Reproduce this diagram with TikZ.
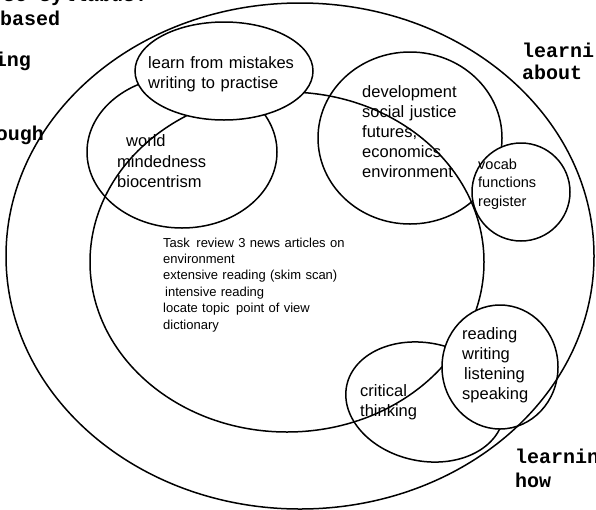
\documentclass[tikz,border=0pt]{standalone}
\usepackage{fontspec}
\setmainfont{Liberation Sans}
\newfontfamily\typefont{Liberation Mono}
\begin{document}
\begin{tikzpicture}[x=1pt,y=-1pt,
  ring/.style={line width=1.5pt},
  cover/.style={line width=1.5pt, fill=white},
  block/.style={inner sep=0pt, anchor=base west, align=left, text width=#1},
  big/.style={font=\fontsize{16.5}{20}\selectfont},
  mid/.style={font=\fontsize{14.5}{18.5}\selectfont},
  small/.style={font=\fontsize{13}{16.4}\selectfont},
  margin/.style={inner sep=0pt, font=\typefont\bfseries\fontsize{20}{24}\selectfont}]
\useasboundingbox (0,0) rectangle (596,509);
\clip (0,0) rectangle (596,509);

% inner loops that other rings lie over
\draw[ring] (182,152) ellipse [x radius=95pt, y radius=76pt];
\draw[ring] (287,262) ellipse [x radius=197pt, y radius=170pt];
\draw[ring] (410,138) ellipse [x radius=92pt, y radius=86pt];
\draw[ring, rotate around={-12:(425,402)}] (425,402) ellipse [x radius=80pt, y radius=59pt];

% rings that hide what passes beneath them
\draw[cover] (224,71) ellipse [x radius=89pt, y radius=49pt];
\draw[cover] (521,192) circle [radius=49pt];
\draw[cover] (500,367) ellipse [x radius=58pt, y radius=62pt];

% outer boundary
\draw[ring] (300,256) ellipse [x radius=294pt, y radius=253pt];

% labels inside the rings
\node[block=200pt, big] (mistakes) at (148,68) {learn from mistakes\\writing to practise};
\node[block=80pt, big] (world) at (126,146) {world};
\node[block=120pt, big] (minded) at (117,167) {mindedness\\biocentrism};
\node[block=140pt, big] (dev) at (362,97) {development\\social justice\\futures,\\economics\\environment};
\node[block=80pt, mid] (vocab) at (478,169) {vocab\\functions\\register};
\node[block=260pt, small] (task) at (163,247) {Task\enspace review 3 news articles on\\environment\\extensive reading (skim scan)\\\hspace*{2pt}intensive reading\\locate topic\enspace point of view\\dictionary};
\node[block=90pt, big] (skills) at (462,339) {reading\\writing\\\hspace*{2pt}listening\\speaking};
\node[block=80pt, big] (critical) at (360,396) {critical\\thinking};

% labels in the margins, cut by the page edge
\node[margin, anchor=base west] (topline) at (3,1) {se syllabus:};
\node[margin, anchor=base west] (based) at (0,25) {based};
\node[margin, anchor=base east] (ing) at (31,66) {ing};
\node[margin, anchor=base east] (ough) at (44,140) {ough};
\node[margin, anchor=base west] (aboutA) at (522,57) {learni};
\node[margin, anchor=base west] (aboutB) at (522,79) {about};
\node[margin, anchor=base west] (howA) at (515,463) {learnin};
\node[margin, anchor=base west] (howB) at (515,487) {how};
\end{tikzpicture}
\end{document}
